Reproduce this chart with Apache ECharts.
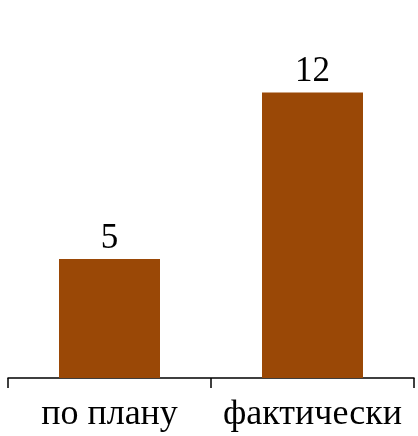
<!DOCTYPE html>
<html>
<head>
<meta charset="utf-8">
<script src="https://cdn.jsdelivr.net/npm/echarts@6/dist/echarts.min.js"></script>
<style>
  html, body { margin: 0; padding: 0; background: #fff; }
  #chart { width: 418px; height: 436px; }
</style>
</head>
<body>
<div id="chart"></div>
<script>
// данные
const categories = ['по плану', 'фактически'];
const values = [5, 12];

const chart = echarts.init(document.getElementById('chart'));

const option = {
  animation: false,
  grid: {
    left: 8,
    right: 4,
    top: 21,
    bottom: 58
  },
  xAxis: {
    type: 'category',
    data: categories,
    axisLine: { lineStyle: { color: '#000', width: 1.5 } },
    axisTick: { show: true, interval: 0, length: 10, lineStyle: { color: '#000', width: 1.5 } },
    axisLabel: {
      interval: 0,
      color: '#000',
      fontFamily: 'Liberation Serif',
      fontSize: 36,
      margin: 19
    }
  },
  yAxis: {
    type: 'value',
    min: 0,
    max: 15,
    show: false,
    splitLine: { show: false }
  },
  series: [
    {
      type: 'bar',
      data: values,
      barWidth: 101,
      itemStyle: { color: '#9a4806' },
      label: {
        show: true,
        position: 'top',
        distance: 3,
        color: '#000',
        fontFamily: 'Liberation Serif',
        fontSize: 35
      }
    }
  ]
};

chart.setOption(option);

window.addEventListener('resize', () => {
  chart.resize();
});
</script>
</body>
</html>
